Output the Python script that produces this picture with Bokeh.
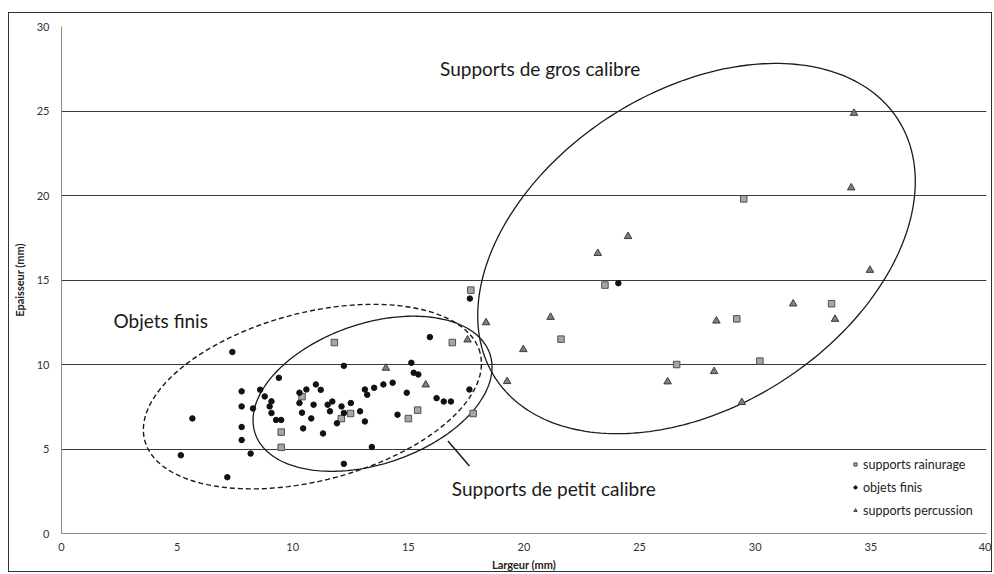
import numpy as np
from bokeh.plotting import figure
from bokeh.models import Label, Legend, LegendItem, Range1d
from bokeh.embed import file_html
from bokeh.resources import INLINE

# ---- data ----
rain_x = [9.5, 9.5, 10.4, 11.8, 12.1, 12.5, 15.0, 15.4, 16.9, 17.7, 17.8, 21.6, 23.5, 26.6, 29.5, 29.2, 30.2, 33.3]
rain_y = [6.0, 5.1, 8.1, 11.3, 6.8, 7.1, 6.8, 7.3, 11.3, 14.4, 7.1, 11.5, 14.7, 10.0, 19.8, 12.7, 10.2, 13.6]

finis_x = [7.39, 5.66, 5.16, 7.17, 7.79, 7.79, 7.79, 7.79, 8.18, 8.28, 8.59, 8.79, 9.08, 9.0, 9.08, 9.28, 9.5,
           9.40, 10.29, 10.29, 10.4, 10.45, 10.59, 10.8, 10.9, 11.0, 11.21, 11.31, 11.51, 11.61, 11.71, 11.91,
           12.11, 12.21, 12.21, 12.21, 12.51, 12.91, 13.12, 13.22, 13.12, 13.42, 13.52, 13.92, 14.32, 14.53,
           14.93, 15.13, 15.23, 15.43, 16.22, 16.53, 16.84, 15.93, 17.64, 17.66, 24.08]
finis_y = [10.74, 6.81, 4.63, 3.33, 8.41, 7.52, 6.30, 5.53, 4.73, 7.40, 8.51, 8.11, 7.82, 7.52, 7.13, 6.72, 6.72,
           9.21, 8.33, 7.72, 7.15, 6.22, 8.52, 6.81, 7.62, 8.82, 8.5, 5.92, 7.62, 7.23, 7.81, 6.52,
           7.52, 9.92, 7.13, 4.12, 7.72, 7.23, 8.52, 8.21, 6.63, 5.12, 8.62, 8.82, 8.92, 7.03,
           8.33, 10.1, 9.51, 9.41, 8.01, 7.81, 7.81, 11.62, 8.52, 13.9, 14.81]

perc_x = [14.03, 15.75, 17.56, 18.36, 19.27, 19.97, 21.15, 23.19, 24.5, 26.21, 28.22, 28.32, 29.42, 31.64, 33.45, 34.15, 34.27, 34.96]
perc_y = [9.79, 8.80, 11.46, 12.48, 9.0, 10.89, 12.8, 16.58, 17.58, 8.98, 9.59, 12.58, 7.76, 13.59, 12.68, 20.46, 24.87, 15.58]

x_ticks = [0, 5, 10, 15, 20, 25, 30, 35, 40]
y_ticks = [0, 5, 10, 15, 20, 25, 30]

# ---- layout constants ----
W, H = 984, 560
BL, BR, BT, BB = 48, 7, 13, 40
FW = W - BL - BR
FH = H - BT - BB
SX = FW / 40.0
SY = FH / 30.0

p = figure(width=W, height=H, output_backend="svg", toolbar_location=None,
           x_range=Range1d(0, 40), y_range=Range1d(0, 30),
           min_border_left=BL, min_border_right=BR, min_border_top=BT, min_border_bottom=BB,
           background_fill_color="white", border_fill_color="white")
p.styles = {"border": "1px solid #333", "margin-left": "8px", "margin-top": "12px"}
p.outline_line_color = None

p.xgrid.grid_line_color = None
p.ygrid.grid_line_color = "#3a3a3a"
p.ygrid.grid_line_width = 1
p.xaxis.ticker = x_ticks
p.yaxis.ticker = y_ticks

for ax in (p.xaxis[0], p.yaxis[0]):
    ax.axis_line_color = "#8c8c8c"
    ax.major_tick_line_color = None
    ax.minor_tick_line_color = None
    ax.major_tick_out = 0
    ax.major_label_text_font = "Lato"
    ax.major_label_text_font_size = "11px"
    ax.major_label_text_color = "#333333"
    ax.axis_label_text_font = "Lato"
    ax.axis_label_text_font_size = "11px"
    ax.axis_label_text_font_style = "bold"
    ax.axis_label_text_color = "#222222"

p.xaxis.axis_label = "Largeur (mm)"
p.yaxis.axis_label = "Epaisseur (mm)"
p.xaxis.major_label_standoff = 9
p.yaxis.major_label_standoff = 12
p.xaxis.axis_label_standoff = 4
p.yaxis.axis_label_standoff = 8


def ellipse_path(cx, cy, a_px, b_px, ang_deg, n=240):
    t = np.linspace(0, 2 * np.pi, n)
    th = np.radians(ang_deg)
    dx = a_px * np.cos(t) * np.cos(th) - b_px * np.sin(t) * np.sin(th)
    dy = a_px * np.cos(t) * np.sin(th) + b_px * np.sin(t) * np.cos(th)
    return cx + dx / SX, cy + dy / SY

# ellipses (annotation shapes)
ex, ey = ellipse_path(27.46, 16.86, 240, 158, 32.3)
p.line(ex, ey, line_color="#1a1a1a", line_width=1.3)
ex, ey = ellipse_path(10.85, 8.1, 174, 84, 14.5)
p.line(ex, ey, line_color="#1a1a1a", line_width=1.4, line_dash="5 3")
ex, ey = ellipse_path(13.45, 8.27, 124.4, 70.3, 18.6)
p.line(ex, ey, line_color="#1a1a1a", line_width=1.3)
p.line([16.71, 17.64], [5.48, 4.0], line_color="#1a1a1a", line_width=1.5)

r_rain = p.scatter(rain_x, rain_y, marker="square", size=6.5, fill_color="#a6a6a6",
                   line_color="#505050", line_width=1)
r_fin = p.scatter(finis_x, finis_y, marker="circle", size=5.5, fill_color="#111111",
                  line_color="#111111")
r_perc = p.scatter(perc_x, perc_y, marker="triangle", size=7.5, fill_color="#7f7f7f",
                   line_color="#3a3a3a", line_width=1)

legend = Legend(items=[LegendItem(label="supports rainurage", renderers=[r_rain]),
                       LegendItem(label="objets finis", renderers=[r_fin]),
                       LegendItem(label="supports percussion", renderers=[r_perc])],
                location=(790, 14), padding=0, spacing=5, label_height=18, glyph_width=8,
                glyph_height=8, label_standoff=4, border_line_color=None,
                background_fill_alpha=0, label_text_font="Lato", label_text_font_size="12.5px",
                label_text_color="#222222")
p.add_layout(legend)

for txt, lx, ly in [("Supports de gros calibre", 16.37, 27.53),
                    ("Objets finis", 2.25, 12.6),
                    ("Supports de petit calibre", 16.88, 2.64)]:
    p.add_layout(Label(x=lx, y=ly, text=txt, text_font="Lato", text_font_size="19px",
                       text_baseline="middle", text_align="left", text_color="#1a1a1a"))

open("out.html", "w").write(file_html(p, INLINE))
